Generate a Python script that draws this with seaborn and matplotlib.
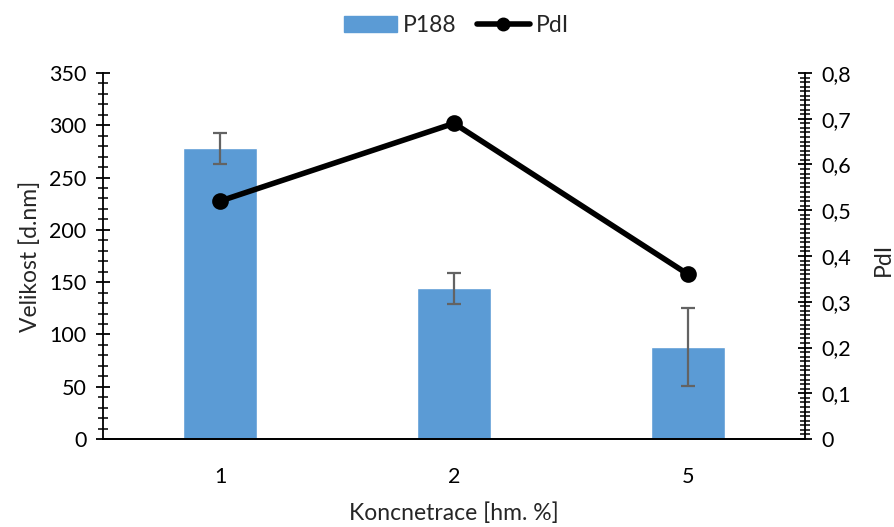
import matplotlib
matplotlib.use("Agg")
import matplotlib.pyplot as plt
import seaborn as sns
import pandas as pd
from matplotlib.ticker import MultipleLocator, FuncFormatter
from matplotlib.patches import Patch
from matplotlib.lines import Line2D

categories = ["1", "2", "5"]
size_values = [278, 144, 88]
size_errors = [15, 15, 37.5]
pdi_values = [0.52, 0.69, 0.36]

sns.set_theme(style="white")
plt.rcParams['font.family'] = ['Lato', 'DejaVu Sans']

fig = plt.figure(figsize=(8.95, 5.27), dpi=100)
ax = fig.add_axes([103/895, 1-439/527, (805-103)/895, (439-73)/527])
ax2 = ax.twinx()

df = pd.DataFrame({"c": categories, "v": size_values, "p": pdi_values})
sns.barplot(data=df, x="c", y="v", order=categories, color="#5B9BD5", saturation=1,
            width=0.316, errorbar=None, ax=ax, zorder=2)
ax.errorbar(range(len(categories)), size_values, yerr=size_errors, fmt="none",
            ecolor="#636363", elinewidth=1.6, capsize=5, capthick=1.6, zorder=3)

sns.pointplot(data=df, x="c", y="p", order=categories, color="black", ax=ax2,
              markers="o", linestyles="-", markersize=9, linewidth=4, errorbar=None)

ax.set_xlim(-0.5, 2.5)
ax.set_ylim(0, 350)
ax2.set_ylim(0, 0.8)
ax.yaxis.set_major_locator(MultipleLocator(50))
ax.yaxis.set_minor_locator(MultipleLocator(10))
ax2.yaxis.set_major_locator(MultipleLocator(0.1))
ax2.yaxis.set_minor_locator(MultipleLocator(0.01))
ax2.yaxis.set_major_formatter(FuncFormatter(lambda v, p: "0" if abs(v) < 1e-9 else f"{v:.1f}".replace(".", ",")))

for a in (ax, ax2):
    for s in a.spines.values():
        s.set_color("black")
        s.set_linewidth(1.3)
    a.spines["top"].set_visible(False)
    a.tick_params(axis="both", which="major", direction="inout", length=10, width=1.3,
                  colors="black", labelsize=15.5)
    a.tick_params(axis="y", which="minor", direction="inout", length=7, width=1.1, colors="black")
ax2.spines["left"].set_visible(False)
ax.spines["right"].set_visible(False)
ax.tick_params(axis="y", pad=7)
ax2.tick_params(axis="y", pad=7)
ax.tick_params(axis="x", pad=15)

ax.set_xlabel("Koncnetrace [hm. %]", fontsize=16.5, labelpad=11)
ax.set_ylabel("Velikost [d.nm]", fontsize=16.5, labelpad=6)
ax2.set_ylabel("PdI", fontsize=16.5)
ax2.yaxis.set_label_coords(1.097, 0.49)

handles = [Patch(color="#5B9BD5", label="P188"),
           Line2D([0], [0], color="black", lw=4, marker="o", markersize=9, label="PdI")]
fig.legend(handles=handles, loc="upper center", bbox_to_anchor=(0.51, 1.01), ncol=2,
           frameon=False, fontsize=16.5, handlelength=2.3, handleheight=0.7,
           columnspacing=0.9, handletextpad=0.25)

fig.savefig("out.png", dpi=100)
